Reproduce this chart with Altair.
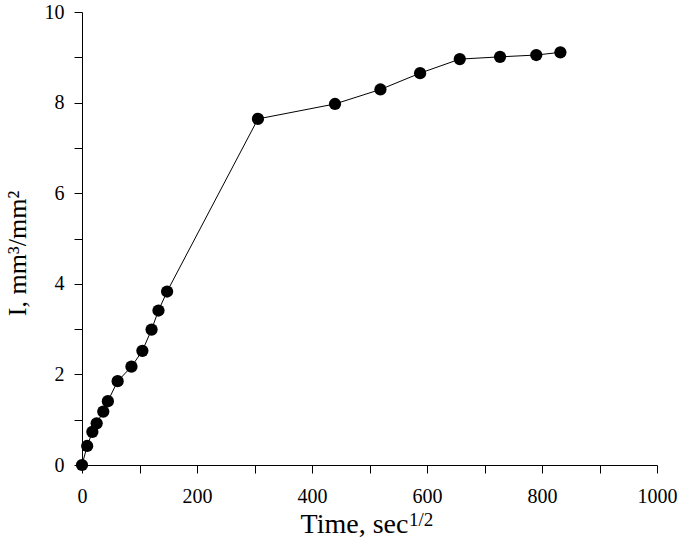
import altair as alt
import pandas as pd

time_vals = [0, 9, 18, 25.5, 37, 45, 62, 86, 105, 121, 133, 148, 306, 440, 519, 588, 657, 727, 790, 832]
i_vals = [0, 0.42, 0.73, 0.92, 1.18, 1.41, 1.85, 2.17, 2.52, 2.99, 3.41, 3.83, 7.64, 7.97, 8.29, 8.65, 8.96, 9.01, 9.05, 9.11]

x_ticks = [0, 100, 200, 300, 400, 500, 600, 700, 800, 900, 1000]
y_ticks = [0, 1, 2, 3, 4, 5, 6, 7, 8, 9, 10]

df = pd.DataFrame({"t": time_vals, "i": i_vals})

FONT = "Liberation Serif"

x_enc = alt.X(
    "t:Q",
    scale=alt.Scale(domain=[0, 1000], nice=False),
    axis=alt.Axis(
        values=x_ticks,
        labelExpr="datum.value % 200 == 0 ? datum.label : ''",
        title="Time, sec",
        titleFont=FONT,
        titleFontSize=28,
        titleFontWeight="normal",
        titleColor="black",
        titleX=272,
        titleY=67,
        titleAlign="center",
        titleBaseline="alphabetic",
        labelFont=FONT,
        labelFontSize=20,
        labelColor="black",
        labelPadding=13,
        labelFlush=False,
        tickSize=8,
        tickColor="black",
        domainColor="black",
        grid=False,
        format="d",
    ),
)
y_enc = alt.Y(
    "i:Q",
    scale=alt.Scale(domain=[0, 10], nice=False),
    axis=alt.Axis(
        values=y_ticks,
        labelExpr="datum.value % 2 == 0 ? datum.label : ''",
        title="I, mm³/mm²",
        titleFont=FONT,
        titleFontSize=26,
        titleFontWeight="normal",
        titleColor="black",
        titleAngle=-90,
        titleX=-57,
        titleY=241,
        titleAlign="center",
        titleBaseline="alphabetic",
        labelFont=FONT,
        labelFontSize=20,
        labelColor="black",
        labelPadding=10,
        labelFlush=False,
        tickSize=8,
        tickColor="black",
        domainColor="black",
        grid=False,
        format="d",
    ),
)

line = alt.Chart(df).mark_line(color="black", strokeWidth=1).encode(x=x_enc, y=y_enc)
pts = alt.Chart(df).mark_point(filled=True, color="black", size=150, opacity=1).encode(x="t:Q", y="i:Q")

sup = alt.Chart(pd.DataFrame({"s": ["1/2"]})).mark_text(
    font=FONT, fontSize=19, color="black", align="left", baseline="alphabetic"
).encode(text="s:N", x=alt.value(327), y=alt.value(514))

chart = (
    alt.layer(line, pts, sup)
    .properties(
        width=575,
        height=453,
        autosize=alt.AutoSizeParams(type="none"),
        padding={"left": 82, "top": 12, "right": 25, "bottom": 75},
        background="white",
    )
    .configure_view(stroke=None)
)

chart.save("out.html", embed_options={"renderer": "svg", "actions": False})
